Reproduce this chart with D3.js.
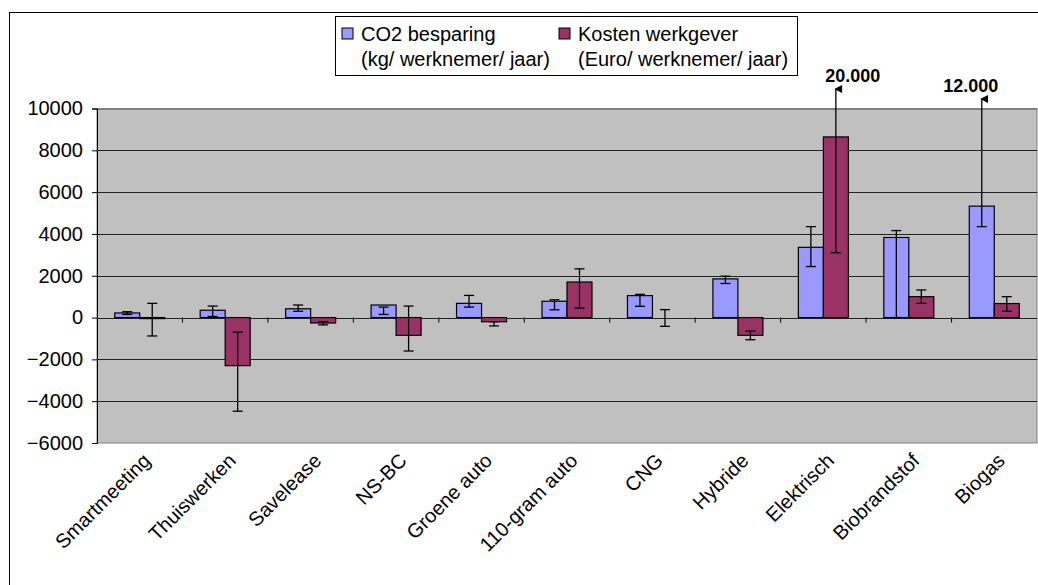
<!DOCTYPE html>
<html>
<head>
<meta charset="utf-8">
<script src="https://cdn.jsdelivr.net/npm/d3@7"></script>
<style>
  body { margin: 0; background: #fff; }
  text { font-family: "Liberation Sans", Arial, sans-serif; }
</style>
</head>
<body>
<div id="chart"></div>
<script>
// data
const categories = ["Smartmeeting", "Thuiswerken", "Savelease", "NS-BC", "Groene auto", "110-gram auto", "CNG", "Hybride", "Elektrisch", "Biobrandstof", "Biogas"]
const co2 = [220, 350, 420, 600, 680, 780, 1050, 1850, 3360, 3830, 5330]
const co2Low = [150, 50, 300, 150, 500, 370, 540, 1630, 2440, 0, 4350]
const co2High = [280, 550, 600, 500, 1060, 850, 1110, 1980, 4350, 4160, 12000]
const kosten = [-50, -2300, -260, -850, -200, 1700, 0, -850, 8640, 1000, 670]
const kostenLow = [-880, -4480, -350, -1600, -400, 450, -420, -1060, 3100, 680, 300]
const kostenHigh = [680, -700, -200, 550, -200, 2330, 380, -650, 20000, 1320, 1000]
const yTicks = [-6000, -4000, -2000, 0, 2000, 4000, 6000, 8000, 10000]
const legendLabels = [["CO2 besparing", "(kg/ werknemer/ jaar)"], ["Kosten werkgever", "(Euro/ werknemer/ jaar)"]]
const colors = ["#9999ff", "#993366"]

const W = 1038, H = 585
const plot = {left: 97, right: 1037, top: 108.5, bottom: 443}
const fs = 20

const svg = d3.select("#chart").append("svg")
    .attr("width", W).attr("height", H)

// outer frame
svg.append("rect").attr("x", 9.5).attr("y", 12.5).attr("width", 1040).attr("height", 600)
    .attr("fill", "none").attr("stroke", "#000")

const x = d3.scaleBand().domain(categories).range([plot.left, plot.right])
const y = d3.scaleLinear().domain([-6000, 10000]).range([plot.bottom, plot.top])

svg.append("rect")
    .attr("x", plot.left).attr("y", plot.top)
    .attr("width", plot.right - plot.left).attr("height", plot.bottom - plot.top)
    .attr("fill", "#c0c0c0").attr("stroke", "#808080")

// gridlines
svg.append("g").selectAll("line").data(yTicks.slice(1)).join("line")
    .attr("x1", plot.left).attr("x2", plot.right)
    .attr("y1", d => Math.round(y(d)) + 0.5).attr("y2", d => Math.round(y(d)) + 0.5)
    .attr("stroke", d => d === 10000 ? "#808080" : "#222")

// y axis
const yAxis = svg.append("g").attr("transform", `translate(${plot.left},0)`)
    .call(d3.axisLeft(y).tickValues(yTicks).tickSize(5).tickFormat(d3.format("d")))
yAxis.attr("font-size", null).attr("font-family", null)
yAxis.select(".domain").attr("stroke", "#000")
yAxis.selectAll("text").style("font-size", fs + "px").attr("fill", "#000").attr("dx", -6)

// x ticks on zero line
svg.append("g").selectAll("line").data(categories.slice(1)).join("line")
    .attr("x1", d => x(d)).attr("x2", d => x(d))
    .attr("y1", y(0)).attr("y2", y(0) + 5).attr("stroke", "#000")

// x labels
svg.append("g").selectAll("text").data(categories).join("text")
    .attr("transform", d => `translate(${x(d) + x.bandwidth() / 2 + 2},${plot.bottom + 9}) rotate(-45)`)
    .attr("text-anchor", "end").style("font-size", fs + "px").attr("dy", "0.7em")
    .text(d => d)

const bw = 25
const series = [
    {vals: co2, lo: co2Low, hi: co2High, off: -bw, color: colors[0]},
    {vals: kosten, lo: kostenLow, hi: kostenHigh, off: 0, color: colors[1]}
]
const cx = c => x(c) + x.bandwidth() / 2

series.forEach(s => {
    svg.append("g").selectAll("rect").data(categories).join("rect")
        .attr("x", d => cx(d) + s.off)
        .attr("y", (d, i) => y(Math.max(0, s.vals[i])))
        .attr("width", bw)
        .attr("height", (d, i) => Math.abs(y(s.vals[i]) - y(0)))
        .attr("fill", s.color).attr("stroke", "#000").attr("stroke-width", 1.2)
})

// error bars (clipped at top with arrow)
const defs = svg.append("defs")
defs.append("marker").attr("id", "arr").attr("viewBox", "0 0 10 10")
    .attr("refX", 5).attr("refY", 2).attr("markerWidth", 6).attr("markerHeight", 8)
    .attr("orient", "auto-start-reverse")
    .append("path").attr("d", "M0,10 L5,0 L10,10 Z").attr("fill", "#000")

series.forEach(s => {
    categories.forEach((c, i) => {
        const ex = cx(c) + s.off + bw / 2
        const over = s.hi[i] > 10000
        const g = svg.append("g").attr("stroke", "#000").attr("stroke-width", 1.3)
        const top = over ? (i === 8 ? 89 : 99) : y(s.hi[i])
        g.append("line").attr("x1", ex).attr("x2", ex).attr("y1", y(s.lo[i])).attr("y2", top)
            .attr("marker-end", over ? "url(#arr)" : null)
        const caps = over ? [s.lo[i]] : [s.lo[i], s.hi[i]]
        caps.forEach(v => g.append("line").attr("x1", ex - 5).attr("x2", ex + 5)
            .attr("y1", y(v)).attr("y2", y(v)))
        if (over) {
            svg.append("text").attr("x", ex + (i === 8 ? 17 : -11)).attr("y", top - 7)
                .attr("text-anchor", "middle").attr("font-weight", "bold").style("font-size", "18px")
                .text(d3.format(",")(s.hi[i]).replace(",", "."))
        }
    })
})

// legend
const lg = svg.append("g")
lg.append("rect").attr("x", 335.5).attr("y", 16.5).attr("width", 462).attr("height", 59)
    .attr("fill", "#fff").attr("stroke", "#000")
const lx = [342, 559]
legendLabels.forEach((l, i) => {
    lg.append("rect").attr("x", lx[i]).attr("y", 28).attr("width", 11).attr("height", 11)
        .attr("fill", colors[i]).attr("stroke", "#000")
    lg.append("text").attr("x", lx[i] + 19).attr("y", 41).style("font-size", fs + "px").text(l[0])
    lg.append("text").attr("x", lx[i] + 19).attr("y", 66).style("font-size", fs + "px").text(l[1])
})
</script>
</body>
</html>
